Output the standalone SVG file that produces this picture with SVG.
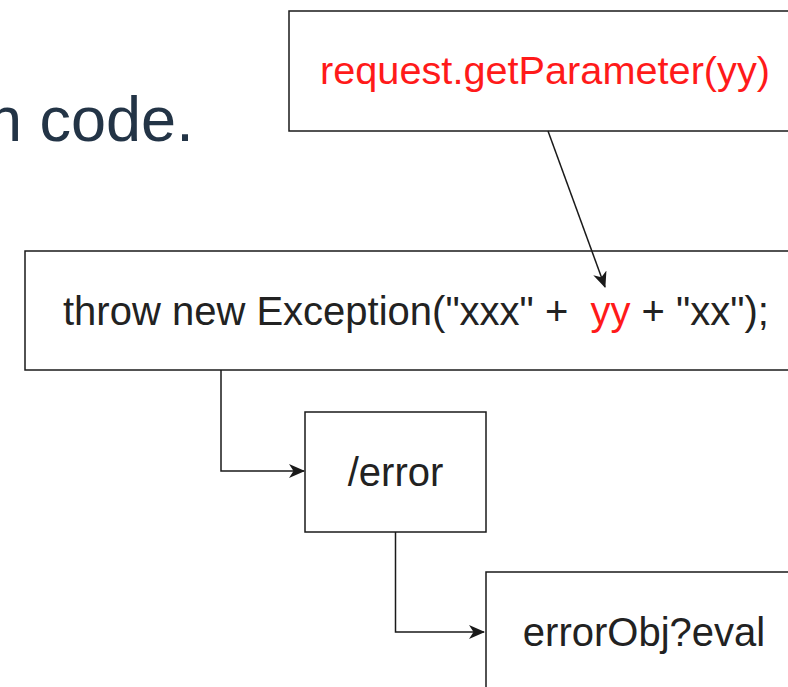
<svg xmlns="http://www.w3.org/2000/svg" width="788" height="687" viewBox="0 0 788 687">
  <defs>
    <style>
      .box { fill: #ffffff; stroke: #1a1a1a; stroke-width: 1.5; }
      .lbl { font-family: "Liberation Sans", Arial, sans-serif; font-size: 40px; fill: #222222; white-space: pre; }
      .red { fill: #ff1a1a; }
      .conn { fill: none; stroke: #1a1a1a; stroke-width: 1.5; }
    </style>
    <marker id="arrow" viewBox="0 0 16 14" refX="15" refY="7" markerWidth="16" markerHeight="14" markerUnits="userSpaceOnUse" orient="auto">
      <path d="M0,0 L16,7 L0,14 L4.5,7 Z" fill="#1a1a1a"/>
    </marker>
  </defs>
  <rect width="788" height="687" fill="#ffffff"/>

  <text x="-13" y="141" style="font-family: 'Liberation Sans', Arial, sans-serif; font-size: 63px; fill: #233446;">n code.</text>

  <g id="node-request">
    <rect class="box" x="289" y="11" width="515" height="120"/>
    <text class="lbl red" x="545" y="84" text-anchor="middle" style="font-size:39.7px">request.getParameter(yy)</text>
  </g>

  <g id="node-throw">
    <rect class="box" x="25" y="251" width="780" height="119"/>
    <text class="lbl" x="63" y="325">throw new Exception("xxx" +  <tspan class="red">yy</tspan> + "xx");</text>
  </g>

  <g id="node-error">
    <rect class="box" x="305" y="412" width="181" height="120"/>
    <text class="lbl" x="395.5" y="486" text-anchor="middle">/error</text>
  </g>

  <g id="node-errorobj">
    <rect class="box" x="486" y="572" width="316" height="120"/>
    <text class="lbl" x="644" y="646" text-anchor="middle">errorObj?eval</text>
  </g>

  <g id="connectors">
    <path class="conn" d="M548,131 L605,287" marker-end="url(#arrow)"/>
    <path class="conn" d="M221,370 L221,471 L304,471" marker-end="url(#arrow)"/>
    <path class="conn" d="M395.5,532 L395.5,632 L484,632" marker-end="url(#arrow)"/>
  </g>
</svg>
